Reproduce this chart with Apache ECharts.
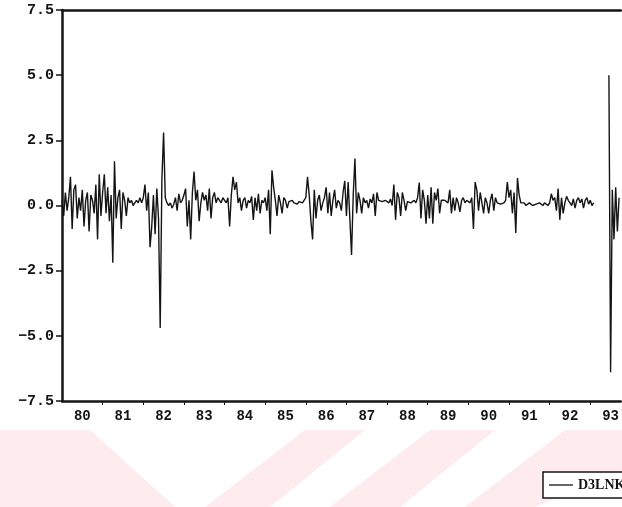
<!DOCTYPE html>
<html>
<head>
<meta charset="utf-8">
<script src="https://cdn.jsdelivr.net/npm/echarts@6/dist/echarts.min.js"></script>
<style>
  html, body { margin: 0; padding: 0; background: #ffffff; }
  #chart { width: 622px; height: 507px; }
</style>
</head>
<body>
<div id="chart"></div>
<script>
// Series name and year labels on the time axis
const seriesName = 'D3LNK';
const yearLabels = ['80', '81', '82', '83', '84', '85', '86', '87', '88', '89', '90', '91', '92', '93'];
const obsPerYear = 24;

// Observations, one array per year (null = missing observation)
const y1980 = [0.2, -0.4, 0.5, -0.2, 0.3, 1.1, -0.9, 0.6, 0.8, -0.5, 0.3, -0.2, 0.6, -0.8, 0.2, 0.5, -1.0, 0.4, 0.2, -0.3, 0.8, -1.3, 1.2, -0.4];
const y1981 = [0.5, 1.2, -0.3, 0.7, -0.6, 0.4, -2.2, 1.7, -0.5, 0.3, 0.6, -0.9, 0.5, 0.2, -0.4, 0.3, 0.1, 0.2, 0.0, 0.1, 0.2, 0.1, 0.3, 0.1];
const y1982 = [0.3, 0.8, -0.2, 0.5, -1.6, -0.8, 0.4, -1.1, 0.65, -0.5, -4.7, 1.0, 2.8, 0.3, 0.1, 0.0, 0.1, -0.1, 0.05, 0.3, -0.2, 0.45, 0.1, 0.2];
const y1983 = [0.4, 0.65, -0.8, 0.2, -1.3, 0.5, 1.3, 0.2, 0.6, -0.6, 0.1, 0.5, 0.2, 0.4, -0.2, 0.65, -0.5, 0.3, 0.5, 0.1, 0.3, 0.2, 0.1, 0.3];
const y1984 = [0.2, 0.1, 0.3, -0.8, 0.4, 1.1, 0.6, 0.9, 0.1, 0.3, -0.2, 0.2, 0.3, -0.1, 0.2, 0.1, 0.35, -0.55, 0.3, -0.2, 0.45, -0.3, 0.2, 0.1];
const y1985 = [0.3, -0.2, 0.6, -1.1, 1.35, 0.7, 0.2, -0.4, 0.4, 0.1, -0.3, 0.3, 0.2, -0.1, 0.15, 0.1, 0.2, 0.1, 0.15, 0.05, 0.15, 0.2, 0.1, 0.15];
const y1986 = [0.3, 1.1, 0.4, -0.6, -1.3, 0.6, -0.5, 0.2, 0.4, -0.2, 0.1, 0.3, 0.7, -0.3, 0.5, -0.4, 0.2, 0.6, -0.1, 0.2, 0.1, -0.2, 0.5, 0.95];
const y1987 = [-0.4, 0.9, -0.5, -1.9, 0.4, 1.8, -0.3, 0.5, 0.2, -0.3, 0.3, 0.1, 0.2, -0.1, 0.25, 0.1, 0.45, -0.4, 0.5, 0.2, 0.2, 0.15, 0.2, 0.2];
const y1988 = [0.2, 0.1, 0.25, 0.0, 0.8, -0.55, 0.5, 0.3, -0.4, 0.5, 0.2, -0.2, 0.15, 0.2, 0.1, 0.15, 0.2, 0.1, 0.3, 0.88, -0.5, 0.6, 0.2, -0.7];
const y1989 = [0.4, -0.5, 0.7, -0.7, 0.5, 0.2, 0.65, -0.3, 0.2, 0.15, 0.2, 0.2, 0.1, 0.6, -0.3, 0.3, -0.2, 0.3, 0.1, -0.25, 0.2, 0.3, 0.1, 0.2];
const y1990 = [0.2, 0.1, 0.3, -0.9, 0.9, 0.6, -0.2, 0.5, 0.1, -0.3, 0.3, 0.1, -0.3, 0.2, 0.45, -0.2, 0.3, 0.1, 0.1, 0.05, 0.1, 0.1, 0.2, 0.9];
const y1991 = [0.3, 0.6, -0.3, 0.5, -1.05, 1.05, 0.4, 0.1, 0.05, 0.1, 0.0, 0.05, 0.1, 0.1, 0.0, -0.05, 0.05, 0.0, 0.1, 0.05, 0.0, 0.1, 0.05, 0.0];
const y1992 = [0.1, 0.45, 0.2, 0.3, -0.2, 0.65, -0.55, 0.3, -0.3, 0.1, 0.35, 0.2, 0.1, 0.0, 0.25, -0.1, 0.2, 0.3, 0.1, 0.25, -0.1, 0.2, 0.3, 0.05];
const y1993 = [0.2, 0.0, 0.1, null, null, null, null, null, null, null, null, 5.0, -6.4, 0.6, -1.3, 0.7, -1.0, 0.3];

const years = [y1980, y1981, y1982, y1983, y1984, y1985, y1986, y1987, y1988, y1989, y1990, y1991, y1992, y1993];

// Time coordinate: year index k is centred on k, each year spans [k-0.5, k+0.5)
const points = [];
years.forEach((arr, k) => {
  arr.forEach((v, j) => {
    points.push([k - 0.5 + j / obsPerYear, v]);
  });
});

const labelValues = yearLabels.map((_, i) => i);
const boundaryValues = yearLabels.map((_, i) => i + 0.5).filter(v => v < 13.25);

const chart = echarts.init(document.getElementById('chart'), null, { renderer: 'canvas' });

const ink = '#141414';
const pink = '#fdebee';
const monoFont = '"Liberation Mono", "DejaVu Sans Mono", monospace';
const xMin = -0.5;
const xMax = 13.25;

chart.setOption({
  backgroundColor: '#ffffff',
  animation: false,
  graphic: [
    // faint pink background stripes in the lower band
    { type: 'polygon', z: -10, silent: true,
      shape: { points: [[0, 430], [90, 430], [175, 507], [0, 507]] },
      style: { fill: pink } },
    { type: 'polygon', z: -10, silent: true,
      shape: { points: [[205, 507], [305, 430], [365, 430], [270, 507]] },
      style: { fill: pink } },
    { type: 'polygon', z: -10, silent: true,
      shape: { points: [[330, 507], [430, 430], [495, 430], [400, 507]] },
      style: { fill: pink } },
    { type: 'polygon', z: -10, silent: true,
      shape: { points: [[465, 507], [565, 430], [622, 430], [622, 470], [535, 507]] },
      style: { fill: pink } }
  ],
  grid: {
    left: 62,
    right: 0,
    top: 10,
    bottom: 106
  },
  legend: {
    show: true,
    left: 543,
    top: 472,
    orient: 'horizontal',
    padding: [6, 10, 6, 6],
    itemWidth: 24,
    itemHeight: 10,
    itemGap: 4,
    borderColor: ink,
    borderWidth: 1.5,
    borderRadius: 0,
    backgroundColor: '#ffffff',
    textStyle: {
      color: ink,
      fontFamily: '"Liberation Serif", "DejaVu Serif", serif',
      fontWeight: 'bold',
      fontSize: 14
    },
    data: [{ name: seriesName, icon: 'path://M0,5 L24,5 L24,6.3 L0,6.3 Z' }]
  },
  xAxis: [{
    type: 'value',
    position: 'bottom',
    min: xMin,
    max: xMax,
    axisLine: { show: true, onZero: false, lineStyle: { color: ink, width: 2.5 } },
    axisTick: {
      show: true,
      length: 4,
      inside: false,
      customValues: boundaryValues,
      lineStyle: { color: ink, width: 1 }
    },
    axisLabel: {
      show: true,
      customValues: labelValues,
      formatter: v => yearLabels[Math.round(v)] ?? '',
      color: ink,
      fontFamily: monoFont,
      fontWeight: 'bold',
      fontSize: 14,
      margin: 8
    },
    splitLine: { show: false }
  }, {
    // top frame line
    type: 'value',
    position: 'top',
    min: xMin,
    max: xMax,
    axisLine: { show: true, onZero: false, lineStyle: { color: ink, width: 2.5 } },
    axisTick: { show: false },
    axisLabel: { show: false },
    splitLine: { show: false }
  }],
  yAxis: {
    type: 'value',
    min: -7.5,
    max: 7.5,
    interval: 2.5,
    axisLine: { show: true, onZero: false, lineStyle: { color: ink, width: 2.5 } },
    axisTick: { show: true, length: 6, inside: false, lineStyle: { color: ink, width: 1.5 } },
    axisLabel: {
      show: true,
      formatter: v => (v < 0 ? '\u2212' : '') + Math.abs(v).toFixed(1),
      color: ink,
      fontFamily: monoFont,
      fontWeight: 'bold',
      fontSize: 15,
      margin: 8
    },
    splitLine: { show: false }
  },
  series: [{
    name: seriesName,
    type: 'line',
    xAxisIndex: 0,
    data: points,
    showSymbol: false,
    symbol: 'none',
    connectNulls: false,
    lineStyle: { color: ink, width: 1.4 },
    itemStyle: { color: ink },
    z: 3
  }]
});
</script>
</body>
</html>
